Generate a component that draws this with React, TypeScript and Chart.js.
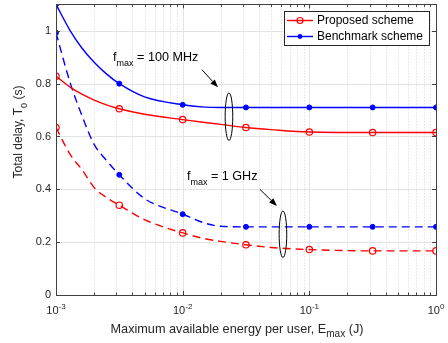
import { useEffect, useRef } from "react";
import { Chart, registerables } from "chart.js";

Chart.register(...registerables);

// ---- data ----
const energy = [0.001, 0.0013, 0.0016, 0.002, 0.0025, 0.00316, 0.005, 0.01, 0.015, 0.02, 0.0316, 0.05, 0.1, 0.316, 1];
const proposed100MHz = [0.828, 0.786, 0.76, 0.738, 0.72, 0.705, 0.684, 0.664, 0.653, 0.646, 0.634, 0.626, 0.617, 0.615, 0.615];
const benchmark100MHz = [1.1, 0.999, 0.935, 0.881, 0.837, 0.8, 0.75, 0.72, 0.711, 0.71, 0.71, 0.71, 0.71, 0.71, 0.71];
const proposed1GHz = [0.634, 0.53, 0.475, 0.407, 0.369, 0.34, 0.285, 0.235, 0.213, 0.203, 0.19, 0.18, 0.172, 0.167, 0.167];
const benchmark1GHz = [0.993, 0.8, 0.68, 0.57, 0.51, 0.455, 0.365, 0.306, 0.272, 0.26, 0.258, 0.258, 0.258, 0.258, 0.258];
const markerEnergy = [0.001, 0.00316, 0.01, 0.0316, 0.1, 0.316, 1];
const legendLabels = ["Proposed scheme", "Benchmark scheme"];
const yTicks = [0, 0.2, 0.4, 0.6, 0.8, 1];
const xDecades = [-3, -2, -1, 0];
const yTitle = [["Total delay, T", 0], ["0", 1], [" (s)", 0]];
const xTitle = [["Maximum available energy per user, E", 0], ["max", 1], [" (J)", 0]];
const note100 = [["f", 0], ["max", 1], [" = 100 MHz", 0]];
const note1G = [["f", 0], ["max", 1], [" = 1 GHz", 0]];

const FONT = '"Liberation Sans", Arial, Helvetica, sans-serif';
const RED = "#ff0000";
const BLUE = "#0000ff";
const TXT = "#262626";

type Part = (string | number)[];

function drawRich(ctx: CanvasRenderingContext2D, parts: Part[], x: number, y: number, size: number, align: string) {
  const small = Math.round(size * 0.75);
  let w = 0;
  const widths: number[] = [];
  for (const p of parts) {
    const sz = p[1] ? small : size;
    ctx.font = `${sz}px ${FONT}`;
    const ww = ctx.measureText(String(p[0])).width;
    widths.push(ww);
    w += ww;
  }
  let cx = align === "center" ? x - w / 2 : align === "right" ? x - w : x;
  ctx.textAlign = "left";
  ctx.textBaseline = "middle";
  parts.forEach((p, i) => {
    const kind = p[1];
    const sz = kind ? small : size;
    ctx.font = `${sz}px ${FONT}`;
    const dy = kind === 1 ? size * 0.45 : kind === 2 ? -size * 0.42 : 0;
    ctx.fillText(String(p[0]), cx, y + dy);
    cx += widths[i];
  });
}

const isMarker = (i: number) => markerEnergy.includes(energy[i]);

const decorPlugin = {
  id: "decor",
  beforeDatasetsDraw(chart: any) {
    const ctx: CanvasRenderingContext2D = chart.ctx;
    const { left, right, top, bottom } = chart.chartArea;
    const xs = chart.scales.x;
    const ys = chart.scales.y;
    ctx.save();
    ctx.lineWidth = 1;
    // minor x grid (dotted)
    ctx.strokeStyle = "#d4d4d4";
    ctx.setLineDash([1, 2]);
    for (let k = 0; k < xDecades.length - 1; k++) {
      for (let m = 2; m <= 9; m++) {
        const px = Math.round(xs.getPixelForValue(m * Math.pow(10, xDecades[k]))) + 0.5;
        ctx.beginPath();
        ctx.moveTo(px, top);
        ctx.lineTo(px, bottom);
        ctx.stroke();
      }
    }
    ctx.setLineDash([]);
    ctx.strokeStyle = "#e3e3e3";
    for (const d of xDecades) {
      const px = Math.round(xs.getPixelForValue(Math.pow(10, d))) + 0.5;
      ctx.beginPath();
      ctx.moveTo(px, top);
      ctx.lineTo(px, bottom);
      ctx.stroke();
    }
    for (const t of yTicks) {
      const py = Math.round(ys.getPixelForValue(t)) + 0.5;
      ctx.beginPath();
      ctx.moveTo(left, py);
      ctx.lineTo(right, py);
      ctx.stroke();
    }
    ctx.restore();
  },
  afterDatasetsDraw(chart: any) {
    const ctx: CanvasRenderingContext2D = chart.ctx;
    const { left, right, top, bottom } = chart.chartArea;
    const xs = chart.scales.x;
    const ys = chart.scales.y;
    ctx.save();
    // axes box
    ctx.strokeStyle = "#404040";
    ctx.lineWidth = 1;
    ctx.strokeRect(Math.round(left) + 0.5, Math.round(top) + 0.5, Math.round(right - left), Math.round(bottom - top));
    // ticks
    ctx.beginPath();
    for (const t of yTicks) {
      const py = Math.round(ys.getPixelForValue(t)) + 0.5;
      ctx.moveTo(left, py);
      ctx.lineTo(left + 4, py);
      ctx.moveTo(right, py);
      ctx.lineTo(right - 4, py);
    }
    for (let k = 0; k < xDecades.length; k++) {
      const px = Math.round(xs.getPixelForValue(Math.pow(10, xDecades[k]))) + 0.5;
      ctx.moveTo(px, bottom);
      ctx.lineTo(px, bottom - 4);
      ctx.moveTo(px, top);
      ctx.lineTo(px, top + 4);
      if (k < xDecades.length - 1) {
        for (let m = 2; m <= 9; m++) {
          const qx = Math.round(xs.getPixelForValue(m * Math.pow(10, xDecades[k]))) + 0.5;
          ctx.moveTo(qx, bottom);
          ctx.lineTo(qx, bottom - 2.5);
          ctx.moveTo(qx, top);
          ctx.lineTo(qx, top + 2.5);
        }
      }
    }
    ctx.stroke();

    // tick labels
    ctx.fillStyle = TXT;
    for (const t of yTicks) {
      drawRich(ctx, [[String(t), 0]], left - 5, ys.getPixelForValue(t), 11, "right");
    }
    for (const d of xDecades) {
      drawRich(ctx, [["10", 0], [String(d), 2]], xs.getPixelForValue(Math.pow(10, d)), bottom + 16, 11, "center");
    }
    // axis titles
    drawRich(ctx, xTitle, 237, 329, 12.7, "center");
    ctx.save();
    ctx.translate(19, 132);
    ctx.rotate(-Math.PI / 2);
    drawRich(ctx, yTitle, 0, 0, 12, "center");
    ctx.restore();

    // annotations
    ctx.fillStyle = "#000";
    ctx.strokeStyle = "#000";
    ctx.lineWidth = 1;
    drawRich(ctx, note100, xs.getPixelForValue(0.00282), ys.getPixelForValue(0.898), 12.6, "left");
    drawRich(ctx, note1G, xs.getPixelForValue(0.0108), ys.getPixelForValue(0.449), 12.6, "left");
    const arrow = (x1: number, y1: number, x2: number, y2: number) => {
      const a = [xs.getPixelForValue(x1), ys.getPixelForValue(y1)];
      const b = [xs.getPixelForValue(x2), ys.getPixelForValue(y2)];
      const ang = Math.atan2(b[1] - a[1], b[0] - a[0]);
      const L = 8, W = 3;
      const bx = b[0] - L * Math.cos(ang), by = b[1] - L * Math.sin(ang);
      ctx.beginPath();
      ctx.moveTo(a[0], a[1]);
      ctx.lineTo(bx, by);
      ctx.stroke();
      ctx.beginPath();
      ctx.moveTo(b[0], b[1]);
      ctx.lineTo(bx + W * Math.sin(ang), by - W * Math.cos(ang));
      ctx.lineTo(bx - W * Math.sin(ang), by + W * Math.cos(ang));
      ctx.closePath();
      ctx.fill();
    };
    arrow(0.01419, 0.853, 0.019, 0.786);
    arrow(0.0407, 0.4, 0.0555, 0.337);
    const ell = (ex: number, ey: number, dy: number) => {
      const cx = xs.getPixelForValue(ex), cy = ys.getPixelForValue(ey);
      const ry = Math.abs(ys.getPixelForValue(ey + dy) - cy);
      ctx.beginPath();
      ctx.ellipse(cx, cy, 3.8, ry, 0, 0, Math.PI * 2);
      ctx.stroke();
    };
    ell(0.0232, 0.675, 0.09);
    ell(0.0619, 0.23, 0.088);

    // legend
    const lx = 284, ly = 11, lw = 145, lh = 34;
    ctx.fillStyle = "#fff";
    ctx.fillRect(lx, ly, lw, lh);
    ctx.strokeStyle = TXT;
    ctx.lineWidth = 1;
    ctx.strokeRect(lx + 0.5, ly + 0.5, lw, lh);
    const rows = [
      { label: legendLabels[0], color: RED, open: true, y: ly + 9.5 },
      { label: legendLabels[1], color: BLUE, open: false, y: ly + 25.5 },
    ];
    for (const r of rows) {
      ctx.strokeStyle = r.color;
      ctx.lineWidth = 1.4;
      ctx.beginPath();
      ctx.moveTo(lx + 3, r.y);
      ctx.lineTo(lx + 29, r.y);
      ctx.stroke();
      ctx.beginPath();
      ctx.arc(lx + 16, r.y, r.open ? 3 : 2.4, 0, Math.PI * 2);
      if (r.open) {
        ctx.lineWidth = 1.2;
        ctx.stroke();
      } else {
        ctx.fillStyle = r.color;
        ctx.fill();
      }
      ctx.fillStyle = "#000";
      drawRich(ctx, [[r.label, 0]], lx + 33, r.y, 12, "left");
    }
    ctx.restore();
  },
};

function series(label: string, values: number[], color: string, dashed: boolean, open: boolean) {
  return {
    label,
    data: energy.map((e, i) => ({ x: e, y: values[i] })),
    borderColor: color,
    borderWidth: 1.4,
    borderDash: dashed ? [8, 5] : [],
    cubicInterpolationMode: "monotone" as const,
    pointRadius: (c: any) => (isMarker(c.dataIndex) ? (open ? 3.2 : 2.5) : 0),
    pointBorderWidth: open ? 1.2 : 1,
    pointBorderColor: color,
    pointBackgroundColor: open ? "rgba(0,0,0,0)" : color,
    pointHoverRadius: 0,
    fill: false,
  };
}

export default function App() {
  const ref = useRef<HTMLCanvasElement | null>(null);
  useEffect(() => {
    document.body.style.margin = "0";
    if (!ref.current) return;
    const chart = new Chart(ref.current, {
      type: "line",
      data: {
        datasets: [
          series(legendLabels[0], proposed100MHz, RED, false, true),
          series(legendLabels[1], benchmark100MHz, BLUE, false, false),
          series(legendLabels[0] + " (1 GHz)", proposed1GHz, RED, true, true),
          series(legendLabels[1] + " (1 GHz)", benchmark1GHz, BLUE, true, false),
        ] as any,
      },
      options: {
        animation: false,
        responsive: false,
        devicePixelRatio: 1,
        events: [],
        layout: { padding: { top: 1, right: 12, left: 0, bottom: 0 } },
        plugins: { legend: { display: false }, tooltip: { enabled: false } },
        scales: {
          x: {
            type: "logarithmic",
            min: 0.001,
            max: 1,
            ticks: { display: false },
            grid: { display: false },
            border: { display: false },
            afterFit: (s: any) => {
              s.height = 48;
            },
          },
          y: {
            type: "linear",
            min: 0,
            max: 1.1,
            ticks: { display: false },
            grid: { display: false },
            border: { display: false },
            afterFit: (s: any) => {
              s.width = 56;
            },
          },
        },
      },
      plugins: [decorPlugin],
    });
    return () => chart.destroy();
  }, []);
  return (
    <div style={{ position: "fixed", left: 0, top: 0, width: 448, height: 343, background: "#fff" }}>
      <canvas ref={ref} width={448} height={343} style={{ display: "block" }} />
    </div>
  );
}
